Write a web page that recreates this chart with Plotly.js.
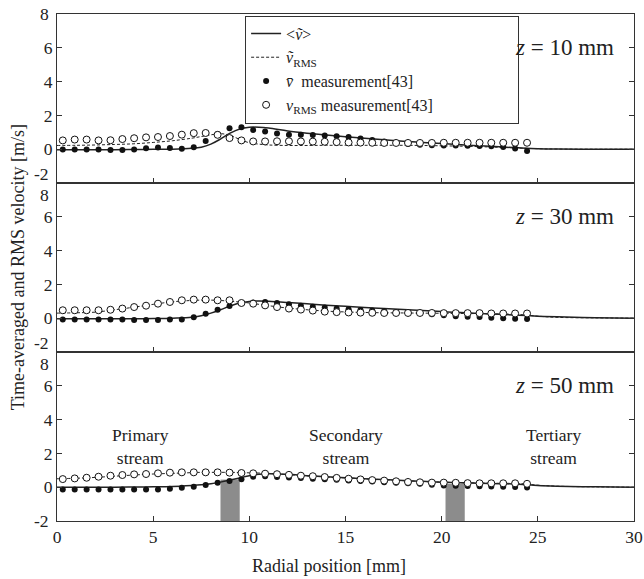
<!DOCTYPE html>
<html>
<head>
<meta charset="utf-8">
<script src="https://cdn.plot.ly/plotly-3.0.1.min.js"></script>
<style>html,body{margin:0;padding:0;background:#fff;}#chart{width:644px;height:579px;}</style>
</head>
<body>
<div id="chart"></div>
<script>
// Measurement radial positions [mm]
var measX = [0.30,0.92,1.54,2.16,2.78,3.40,4.01,4.63,5.25,5.87,6.49,7.11,7.73,8.35,8.97,9.59,10.20,10.82,11.44,12.06,12.68,13.30,13.92,14.54,15.16,15.78,16.39,17.01,17.63,18.25,18.87,19.49,20.11,20.73,21.35,21.97,22.58,23.20,23.82,24.44];
// Simulation radial positions [mm]
var simX = [0,1,2,3,4,5,6,7,7.5,8,8.5,9,9.5,10,10.5,11,12,13,14,15,16,17,18,19,20,21,22,23,24,25,26,28,30];

// z = 10 mm
var meanMeas10 = [-0.02,-0.02,-0.02,-0.02,-0.05,-0.05,-0.02,0.05,0.1,0.07,0.03,0.12,0.48,0.9,1.24,1.3,1.14,1.04,0.93,0.86,0.86,0.84,0.81,0.77,0.72,0.63,0.54,0.46,0.38,0.31,0.26,0.23,0.22,0.22,0.2,0.19,0.17,0.13,0.04,-0.1];
var rmsMeas10 = [0.52,0.57,0.57,0.52,0.53,0.6,0.65,0.7,0.72,0.78,0.86,0.95,0.96,0.85,0.66,0.52,0.46,0.46,0.47,0.47,0.46,0.45,0.44,0.42,0.4,0.39,0.38,0.37,0.37,0.37,0.37,0.37,0.38,0.38,0.38,0.38,0.38,0.38,0.38,0.38];
var meanSim10 = [-0.03,-0.03,-0.03,-0.03,-0.02,-0.01,0.0,0.05,0.12,0.3,0.6,0.95,1.2,1.3,1.3,1.25,1.08,0.95,0.84,0.74,0.65,0.56,0.47,0.4,0.33,0.26,0.2,0.14,0.08,0.03,0.01,0.0,0.0];
var rmsSim10 = [0.22,0.23,0.25,0.28,0.32,0.4,0.5,0.65,0.75,0.85,0.92,0.82,0.58,0.38,0.3,0.25,0.22,0.22,0.23,0.23,0.23,0.23,0.23,0.22,0.2,0.18,0.15,0.11,0.07,0.03,0.01,0.0,0.0];

// z = 30 mm
var meanMeas30 = [-0.07,-0.07,-0.07,-0.07,-0.07,-0.07,-0.1,-0.1,-0.1,-0.07,-0.07,0.05,0.27,0.5,0.72,0.88,0.93,0.96,0.9,0.82,0.74,0.68,0.63,0.58,0.53,0.49,0.45,0.41,0.37,0.33,0.29,0.24,0.17,0.11,0.08,0.07,0.02,0.0,-0.03,-0.05];
var rmsMeas30 = [0.47,0.47,0.47,0.47,0.5,0.57,0.66,0.74,0.86,0.96,1.06,1.1,1.1,1.06,1.06,0.9,0.86,0.76,0.66,0.57,0.51,0.45,0.39,0.36,0.34,0.33,0.32,0.31,0.31,0.31,0.31,0.31,0.3,0.3,0.3,0.3,0.28,0.28,0.28,0.28];
var meanSim30 = [-0.03,-0.03,-0.03,-0.03,-0.03,-0.02,0.0,0.05,0.15,0.3,0.5,0.72,0.9,0.99,1.02,1.0,0.93,0.85,0.77,0.7,0.63,0.57,0.51,0.45,0.39,0.33,0.28,0.23,0.18,0.12,0.08,0.03,0.0];
var rmsSim30 = [0.3,0.32,0.36,0.5,0.65,0.82,0.97,1.05,1.07,1.07,1.05,1.0,0.96,0.9,0.82,0.74,0.6,0.5,0.42,0.37,0.34,0.32,0.31,0.3,0.29,0.28,0.27,0.25,0.22,0.12,0.05,0.02,0.0];

// z = 50 mm
var meanMeas50 = [-0.13,-0.13,-0.13,-0.13,-0.13,-0.13,-0.13,-0.13,-0.13,-0.09,-0.03,0.03,0.13,0.27,0.37,0.47,0.62,0.65,0.61,0.57,0.54,0.5,0.47,0.44,0.4,0.37,0.34,0.3,0.27,0.23,0.2,0.15,0.1,0.08,0.07,0.06,0.04,0.02,0.01,-0.02];
var rmsMeas50 = [0.48,0.52,0.56,0.62,0.68,0.72,0.76,0.78,0.82,0.86,0.88,0.88,0.88,0.88,0.86,0.84,0.82,0.8,0.77,0.73,0.68,0.65,0.6,0.55,0.5,0.46,0.42,0.39,0.35,0.31,0.29,0.27,0.27,0.26,0.24,0.23,0.23,0.23,0.23,0.2];
var meanSim50 = [0.0,0.0,0.0,0.0,0.01,0.02,0.04,0.1,0.14,0.2,0.3,0.42,0.55,0.68,0.76,0.8,0.76,0.68,0.62,0.56,0.5,0.45,0.4,0.35,0.3,0.27,0.24,0.21,0.18,0.1,0.06,0.02,0.0];
var rmsSim50 = [0.5,0.53,0.58,0.65,0.72,0.78,0.82,0.86,0.88,0.88,0.88,0.88,0.87,0.85,0.84,0.82,0.74,0.67,0.6,0.55,0.5,0.44,0.39,0.34,0.3,0.27,0.25,0.23,0.22,0.12,0.06,0.02,0.0];

// Nozzle wall positions (gray blocks, z = 50 mm panel) [mm]
var wallX0 = [8.5, 20.2];
var wallX1 = [9.5, 21.2];
var wallTop = [0.45, 0.2];

var panelLabels = ['<i>z</i> = 10 mm', '<i>z</i> = 30 mm', '<i>z</i> = 50 mm'];
var streamLabels = ['Primary<br>stream', 'Secondary<br>stream', 'Tertiary<br>stream'];
var streamX = [4.34, 15.0, 25.8];
var xTicks = [0, 5, 10, 15, 20, 25, 30];
var yTicks = [0, 2, 4, 6];

var FONT = 'Liberation Serif, Times New Roman, serif';
var INK = '#222';
var panels = [
  {mm: meanMeas10, rm: rmsMeas10, ms: meanSim10, rs: rmsSim10},
  {mm: meanMeas30, rm: rmsMeas30, ms: meanSim30, rs: rmsSim30},
  {mm: meanMeas50, rm: rmsMeas50, ms: meanSim50, rs: rmsSim50}
];
var PAD = new Array(21).join('\u00a0');
var traces = [];
panels.forEach(function(p, k) {
  var xa = k === 0 ? 'x' : 'x' + (k + 1);
  var ya = k === 0 ? 'y' : 'y' + (k + 1);
  var show = k === 0;
  traces.push({x: simX, y: p.ms, xaxis: xa, yaxis: ya, mode: 'lines', line: {color: INK, width: 1.5, shape: 'spline'},
    name: '&lt;<i>ṽ</i>&gt;', showlegend: show});
  traces.push({x: simX, y: p.rs, xaxis: xa, yaxis: ya, mode: 'lines', line: {color: INK, width: 1, dash: '3px,2px', shape: 'spline'},
    name: '<i>ṽ</i><sub>RMS</sub>', showlegend: show});
  traces.push({x: measX, y: p.mm, xaxis: xa, yaxis: ya, mode: 'markers', marker: {symbol: 'circle', size: 6, color: '#111'},
    name: '<i>v̄</i>  measurement[43]', showlegend: show});
  traces.push({x: measX, y: p.rm, xaxis: xa, yaxis: ya, mode: 'markers', marker: {symbol: 'circle', size: 7, color: '#fff', line: {color: '#111', width: 1}},
    name: '<i>v</i><sub>RMS</sub> measurement[43]' + PAD, showlegend: show});
});

function xaxisDef(k) {
  return {domain: [0, 1], anchor: k === 0 ? 'y' : 'y' + (k + 1), range: [0, 30], tickvals: xTicks,
    ticks: 'inside', ticklen: 5, tickcolor: '#333', showline: true, linecolor: '#333', linewidth: 1, mirror: true,
    showgrid: false, zeroline: false, showticklabels: k === 2, tickfont: {family: FONT, size: 17.5, color: INK}};
}
function yaxisDef(k) {
  var d = [[2/3, 1], [1/3, 2/3], [0, 1/3]][k];
  return {domain: d, anchor: k === 0 ? 'x' : 'x' + (k + 1), range: [-2, 8], tickvals: yTicks,
    ticks: 'inside', ticklen: 5, tickcolor: '#333', showline: true, linecolor: '#333', linewidth: 1, mirror: 'ticks',
    showgrid: false, zeroline: false, tickfont: {family: FONT, size: 17.5, color: INK}};
}

var annotations = [];
panelLabels.forEach(function(t, k) {
  annotations.push({text: t, xref: k === 0 ? 'x' : 'x' + (k + 1), yref: k === 0 ? 'y' : 'y' + (k + 1), x: 29.05, y: 6,
    xanchor: 'right', yanchor: 'middle', showarrow: false, font: {family: FONT, size: 23, color: INK}});
});
streamLabels.forEach(function(t, i) {
  annotations.push({text: t, xref: 'x3', yref: 'y3', x: streamX[i], y: 2.38, xanchor: 'center', yanchor: 'middle',
    showarrow: false, font: {family: FONT, size: 17.5, color: INK}});
});
// boundary tick labels (8 and -2), offset as in the original so they do not overlap
var bnd = [
  {t: '8', ya: 'y', y: 8, s: 0}, {t: '-2', ya: 'y', y: -2, s: 9},
  {t: '8', ya: 'y2', y: 8, s: -12}, {t: '-2', ya: 'y2', y: -2, s: 9},
  {t: '8', ya: 'y3', y: 8, s: -12}, {t: '-2', ya: 'y3', y: -2, s: 0}
];
bnd.forEach(function(b) {
  annotations.push({text: b.t, xref: 'paper', yref: b.ya, x: 0, y: b.y, xanchor: 'right', yanchor: 'middle', xshift: -7, yshift: b.s,
    showarrow: false, borderpad: 0, font: {family: FONT, size: 17.5, color: INK}});
});
annotations.push({text: 'Time-averaged and RMS velocity [m/s]', xref: 'paper', yref: 'paper', x: -0.068, y: 0.5, textangle: -90,
  xanchor: 'center', yanchor: 'middle', showarrow: false, font: {family: FONT, size: 18, color: INK}});
annotations.push({text: 'Radial position [mm]', xref: 'paper', yref: 'paper', x: 0.4714, y: 0, yshift: -45,
  xanchor: 'center', yanchor: 'middle', showarrow: false, font: {family: FONT, size: 18, color: INK}});

var shapes = [];
wallX0.forEach(function(x0, i) {
  shapes.push({type: 'rect', xref: 'x3', yref: 'y3', x0: x0, x1: wallX1[i], y0: -2, y1: wallTop[i], fillcolor: '#8c8c8c', line: {width: 0}, layer: 'below'});
});

var layout = {
  width: 644, height: 579,
  margin: {l: 57, r: 10, t: 14, b: 58, pad: 0},
  paper_bgcolor: '#fff', plot_bgcolor: '#fff',
  font: {family: FONT, size: 17.5, color: INK},
  xaxis: xaxisDef(0), xaxis2: xaxisDef(1), xaxis3: xaxisDef(2),
  yaxis: yaxisDef(0), yaxis2: yaxisDef(1), yaxis3: yaxisDef(2),
  showlegend: true,
  legend: {x: 0.326, y: 0.997, xanchor: 'left', yanchor: 'top', bgcolor: '#fff', bordercolor: '#333', borderwidth: 1,
    font: {family: FONT, size: 16, color: INK}, tracegroupgap: 0},
  annotations: annotations,
  shapes: shapes
};

Plotly.newPlot('chart', traces, layout, {displayModeBar: false, staticPlot: true});
</script>
</body>
</html>
